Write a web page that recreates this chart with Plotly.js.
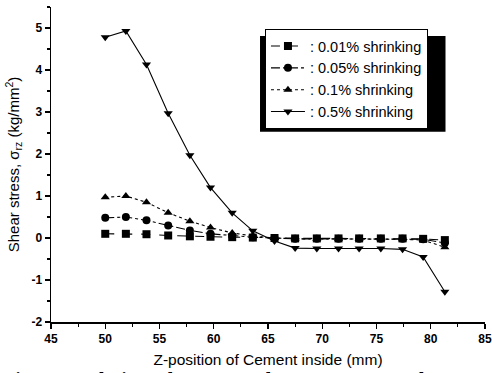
<!DOCTYPE html>
<html>
<head>
<meta charset="utf-8">
<script src="https://cdn.plot.ly/plotly-3.0.1.min.js"></script>
<style>
html,body{margin:0;padding:0;background:#fff;overflow:hidden;}
#chart{width:492px;height:373px;}
</style>
</head>
<body>
<div id="chart"></div>
<script>
// Data
var zPos = [50, 51.9, 53.8, 55.8, 57.8, 59.7, 61.7, 63.6, 65.6, 67.5, 69.5, 71.5, 73.4, 75.4, 77.4, 79.3, 81.3];
var s001 = [0.10, 0.10, 0.09, 0.06, 0.04, 0.03, 0.02, 0.01, 0.00, -0.01, -0.01, -0.01, -0.01, -0.01, -0.01, -0.02, -0.05];
var s005 = [0.48, 0.50, 0.42, 0.30, 0.18, 0.10, 0.05, 0.02, 0.00, -0.02, -0.02, -0.02, -0.02, -0.02, -0.02, -0.03, -0.12];
var s01  = [0.97, 1.00, 0.85, 0.60, 0.40, 0.25, 0.12, 0.05, 0.00, -0.02, -0.02, -0.02, -0.02, -0.02, -0.03, -0.05, -0.22];
var s05  = [4.78, 4.93, 4.13, 2.97, 1.97, 1.20, 0.60, 0.17, -0.07, -0.24, -0.25, -0.25, -0.25, -0.25, -0.27, -0.45, -1.28];
var seriesNames = [': 0.01% shrinking', ': 0.05% shrinking', ': 0.1% shrinking', ': 0.5% shrinking'];
var xTicks = [45, 50, 55, 60, 65, 70, 75, 80, 85];
var yTicks = [-2, -1, 0, 1, 2, 3, 4, 5];

var symbols = ['square', 'circle', 'triangle-up', 'triangle-down'];
var dashes = ['dash', 'dashdot', 'dot', 'solid'];
var ys = [s001, s005, s01, s05];

var traces = ys.map(function(y, i){
  return {
    x: zPos, y: y, type: 'scatter', mode: 'lines+markers',
    name: seriesNames[i],
    line: {color: '#000', width: 1.1, dash: dashes[i]},
    marker: {symbol: symbols[i], size: 8, color: '#000'}
  };
});

var sans = 'Liberation Sans, Arial, sans-serif';
var axFont = {family: sans, size: 12, color: '#000', weight: 'bold'};

var layout = {
  width: 492, height: 373,
  margin: {l: 51, r: 7, t: 7, b: 51},
  paper_bgcolor: '#fff', plot_bgcolor: '#fff',
  showlegend: true,
  legend: {
    x: 0.493, y: 0.93, xanchor: 'left', yanchor: 'top',
    bgcolor: '#fff', bordercolor: '#000', borderwidth: 1,
    font: {family: sans, size: 14.5, color: '#000'},
    itemwidth: 34, tracegroupgap: 0
  },
  xaxis: {
    range: [45, 85], tickvals: xTicks, ticktext: xTicks.map(String),
    ticks: 'outside', ticklen: 5, tickwidth: 1.2, tickcolor: '#000',
    minor: {ticks: 'outside', ticklen: 3, dtick: 2.5, tick0: 45, tickcolor: '#000'},
    showline: true, linecolor: '#000', linewidth: 1.5, showgrid: false, zeroline: false,
    tickfont: axFont,
    title: {text: 'Z-position of Cement inside (mm)', standoff: 9,
            font: {family: sans, size: 15.5, color: '#000'}}
  },
  yaxis: {
    range: [-2, 5.5], tickvals: yTicks, ticktext: yTicks.map(String),
    ticks: 'outside', ticklen: 5, tickwidth: 1.2, tickcolor: '#000',
    minor: {ticks: 'outside', ticklen: 3, dtick: 0.5, tick0: -2, tickcolor: '#000'},
    showline: true, linecolor: '#000', linewidth: 1.5, showgrid: false, zeroline: false,
    tickfont: axFont,
    title: {text: 'Shear stress, σ<sub>rz</sub> (kg/mm<sup>2</sup>)', standoff: 8,
            font: {family: sans, size: 15, color: '#000'}}
  },
  xaxis2: {
    overlaying: 'x', side: 'top', range: [45, 85], tickvals: xTicks,
    showticklabels: false, ticks: 'inside', ticklen: 5, tickcolor: '#000',
    minor: {ticks: 'inside', ticklen: 3, dtick: 2.5, tick0: 45, tickcolor: '#000'},
    showline: true, linecolor: '#000', linewidth: 1.5, showgrid: false, zeroline: false
  },
  yaxis2: {
    overlaying: 'y', side: 'right', range: [-2, 5.5], tickvals: yTicks,
    showticklabels: false, ticks: 'inside', ticklen: 5, tickcolor: '#000',
    minor: {ticks: 'inside', ticklen: 3, dtick: 0.5, tick0: -2, tickcolor: '#000'},
    showline: true, linecolor: '#000', linewidth: 1.5, showgrid: false, zeroline: false
  },
  shapes: [{
    // legend drop shadow (decoration)
    type: 'rect', xref: 'paper', yref: 'paper', layer: 'above',
    x0: 0.4816, x1: 0.909, y0: 0.604, y1: 0.908,
    fillcolor: '#000', line: {width: 0}
  }],
  annotations: [{
    xref: 'paper', yref: 'paper', x: -0.115, y: -0.143, xanchor: 'left', yanchor: 'top',
    showarrow: false,
    text: 'Fig. 8.&nbsp;&nbsp;&nbsp;&nbsp;Relation&nbsp;&nbsp;&nbsp;&nbsp;between&nbsp;&nbsp;&nbsp;&nbsp;shear&nbsp;&nbsp;&nbsp;&nbsp;stress&nbsp;&nbsp;&nbsp;&nbsp;and',
    font: {family: 'Liberation Serif, Times New Roman, serif', size: 20, color: '#000', weight: 'bold'}
  }]
};

Plotly.newPlot('chart', traces, layout, {displayModeBar: false, staticPlot: true});
</script>
</body>
</html>
